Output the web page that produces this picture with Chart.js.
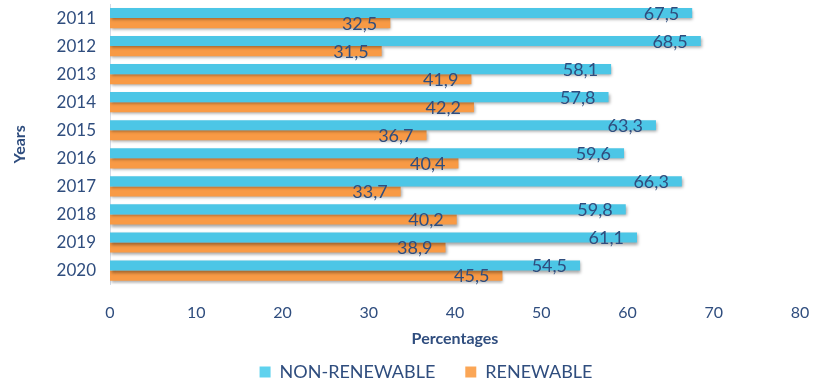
<!DOCTYPE html>
<html>
<head>
<meta charset="utf-8">
<script src="https://cdn.jsdelivr.net/npm/chart.js@4/dist/chart.umd.min.js"></script>
<style>
  html, body { margin: 0; padding: 0; background: #fff; }
  #wrap { width: 816px; height: 386px; }
</style>
</head>
<body>
<div id="wrap"><canvas id="myChart" width="816" height="386"></canvas></div>
<script>
(() => {
  'use strict'

  const years = ['2011', '2012', '2013', '2014', '2015', '2016', '2017', '2018', '2019', '2020']
  const nonRenewable = [67.5, 68.5, 58.1, 57.8, 63.3, 59.6, 66.3, 59.8, 61.1, 54.5]
  const renewable = [32.5, 31.5, 41.9, 42.2, 36.7, 40.4, 33.7, 40.2, 38.9, 45.5]
  const xTicks = [0, 10, 20, 30, 40, 50, 60, 70, 80]

  const textColor = '#2f4d7e'
  const fontFamily = 'Lato, "Open Sans", sans-serif'

  // vertical gradient across each bar, lighter on top
  const barFill = (light, dark) => (c) => {
    const el = c.element
    const area = c.chart.chartArea
    if (!el || !area || el.y === undefined) return dark
    const h = el.height || 10
    const g = c.chart.ctx.createLinearGradient(0, el.y - h / 2, 0, el.y + h / 2)
    g.addColorStop(0, light)
    g.addColorStop(0.5, dark)
    g.addColorStop(1, dark)
    return g
  }

  const shadow = {
    id: 'barShadow',
    beforeDatasetsDraw (chart) {
      const c = chart.ctx
      c.save()
      c.shadowColor = 'rgba(0,0,0,0.35)'
      c.shadowBlur = 3
      c.shadowOffsetX = 1
      c.shadowOffsetY = 2
    },
    afterDatasetsDraw (chart) {
      chart.ctx.restore()
    }
  }

  // value labels near the end of each bar
  const valueLabels = {
    id: 'valueLabels',
    afterDatasetsDraw (chart) {
      const c = chart.ctx
      c.save()
      c.font = '18px ' + fontFamily
      c.fillStyle = textColor
      c.textAlign = 'right'
      c.textBaseline = 'middle'
      chart.data.datasets.forEach((ds, i) => {
        chart.getDatasetMeta(i).data.forEach((bar, j) => {
          const txt = ds.data[j].toFixed(1).replace('.', ',')
          c.fillText(txt, bar.x - 13, bar.y + 1)
        })
      })
      c.restore()
    }
  }

  // center the legend under the plot rather than the whole canvas
  const legendShift = {
    id: 'legendShift',
    afterLayout (chart) {
      if (chart.legend) chart.legend.left += 52
    }
  }

  const ctx = document.getElementById('myChart')

  // eslint-disable-next-line no-unused-vars
  const myChart = new Chart(ctx, {
    type: 'bar',
    data: {
      labels: years,
      datasets: [{
        label: 'NON-RENEWABLE',
        data: nonRenewable,
        backgroundColor: barFill('#8fe8fa', '#4cc6e6'),
        borderWidth: 0,
        barPercentage: 1,
        categoryPercentage: 0.72
      }, {
        label: 'RENEWABLE',
        data: renewable,
        backgroundColor: barFill('#fdbb78', '#f89a45'),
        borderWidth: 0,
        barPercentage: 1,
        categoryPercentage: 0.72
      }]
    },
    options: {
      indexAxis: 'y',
      responsive: false,
      animation: false,
      layout: { padding: { top: 4, right: 16, left: 0, bottom: -5 } },
      scales: {
        x: {
          min: 0,
          max: 80,
          afterBuildTicks: (axis) => { axis.ticks = xTicks.map(v => ({ value: v })) },
          afterFit: (axis) => {
            axis.paddingLeft = 0
            axis.paddingRight = 0
          },
          grid: { display: false, drawTicks: false },
          border: { display: false },
          ticks: {
            color: textColor,
            font: { family: fontFamily, size: 16 },
            padding: 19
          },
          title: {
            display: true,
            text: 'Percentages',
            color: textColor,
            font: { family: fontFamily, size: 16, weight: 'bold' },
            padding: { top: -13, bottom: -15 }
          }
        },
        y: {
          afterFit: (axis) => {
            axis.width = 110
            axis.paddingTop = 0
            axis.paddingBottom = 0
          },
          grid: { display: false, drawTicks: false },
          border: { display: true, color: '#d4dbe6', width: 1 },
          ticks: {
            color: textColor,
            font: { family: fontFamily, size: 17 },
            padding: 14
          },
          title: {
            display: true,
            text: 'Years',
            color: textColor,
            font: { family: fontFamily, size: 16, weight: 'bold' },
            padding: { top: 10, bottom: 0 }
          }
        }
      },
      plugins: {
        legend: {
          position: 'bottom',
          labels: {
            color: textColor,
            font: { family: fontFamily, size: 18 },
            boxWidth: 11,
            boxHeight: 11,
            padding: 30,
            generateLabels: (chart) => chart.data.datasets.map((ds, i) => ({
              text: ds.label,
              fillStyle: i === 0 ? '#5fd2ee' : '#fba656',
              strokeStyle: 'transparent',
              lineWidth: 0,
              fontColor: textColor,
              datasetIndex: i
            }))
          }
        },
        tooltip: { enabled: false }
      }
    },
    plugins: [shadow, valueLabels, legendShift]
  })
})()
</script>
</body>
</html>
